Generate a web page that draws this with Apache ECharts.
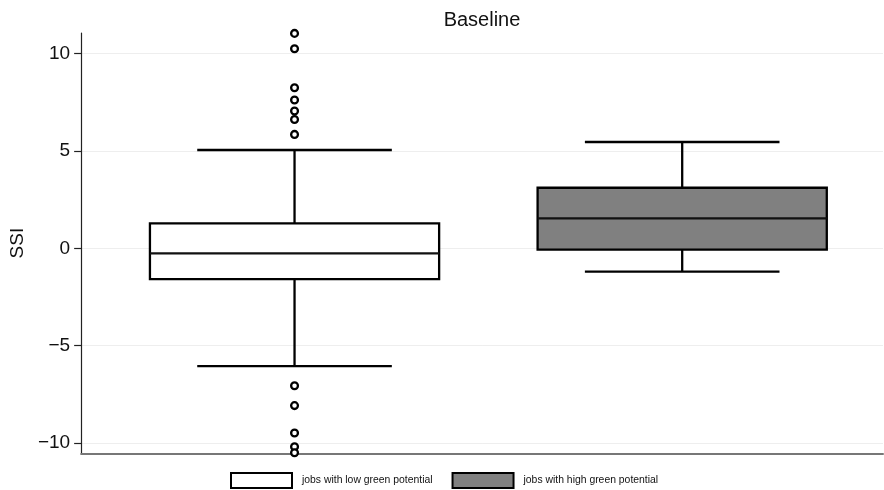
<!DOCTYPE html>
<html>
<head>
<meta charset="utf-8">
<script src="https://cdn.jsdelivr.net/npm/echarts@6/dist/echarts.min.js"></script>
<style>
html,body{margin:0;padding:0;background:#fff;}
#chart{width:884px;height:490px;}
</style>
</head>
<body>
<div id="chart"></div>
<script>
// ---- data ----
const categories = ['jobs with low green potential', 'jobs with high green potential'];
const lowerWhisker = [-6.05, -1.20];
const q1Values = [-1.58, -0.07];
const medianValues = [-0.26, 1.54];
const q3Values = [1.28, 3.11];
const upperWhisker = [5.05, 5.46];
const outliersLowGreen = [11.04, 10.25, 8.25, 7.62, 7.05, 6.62, 5.85, -7.06, -8.08, -9.49, -10.19, -10.50];
const yTickValues = [-10, -5, 0, 5, 10];
const titleText = 'Baseline';
const yAxisName = 'SSI';

// ---- styles ----
const FONT = 'Liberation Sans, Arial, Helvetica, sans-serif';
const FILLS = ['#ffffff', '#808080'];
const BOX_HALF = 0.373;
const CAP_HALF = 0.251;
const LW = 2.3;

function renderBox(params, api) {
  const x = api.value(0);
  const pMin = api.coord([x, api.value(1)]);
  const pQ1 = api.coord([x, api.value(2)]);
  const pMed = api.coord([x, api.value(3)]);
  const pQ3 = api.coord([x, api.value(4)]);
  const pMax = api.coord([x, api.value(5)]);
  const hw = api.size([BOX_HALF, 0])[0];
  const cw = api.size([CAP_HALF, 0])[0];
  const cx = pMed[0];
  const ls = { stroke: '#000', lineWidth: LW };
  return {
    type: 'group',
    children: [
      { type: 'line', shape: { x1: cx, y1: pQ3[1], x2: cx, y2: pMax[1] }, style: ls },
      { type: 'line', shape: { x1: cx - cw, y1: pMax[1], x2: cx + cw, y2: pMax[1] }, style: ls },
      { type: 'line', shape: { x1: cx, y1: pQ1[1], x2: cx, y2: pMin[1] }, style: ls },
      { type: 'line', shape: { x1: cx - cw, y1: pMin[1], x2: cx + cw, y2: pMin[1] }, style: ls },
      { type: 'rect', shape: { x: cx - hw, y: pQ3[1], width: 2 * hw, height: pQ1[1] - pQ3[1] },
        style: { fill: FILLS[params.seriesIndex], stroke: '#000', lineWidth: LW } },
      { type: 'line', shape: { x1: cx - hw, y1: pMed[1], x2: cx + hw, y2: pMed[1] }, style: { stroke: '#111', lineWidth: LW } }
    ]
  };
}

const boxSeries = categories.map((name, i) => ({
  name: name,
  type: 'custom',
  renderItem: renderBox,
  encode: { x: 0, y: [1, 2, 3, 4, 5] },
  itemStyle: { color: FILLS[i], borderColor: '#000', borderWidth: 2 },
  clip: false,
  z: 2,
  data: [[i + 1, lowerWhisker[i], q1Values[i], medianValues[i], q3Values[i], upperWhisker[i]]]
}));

const chart = echarts.init(document.getElementById('chart'), null, { renderer: 'canvas' });
chart.setOption({
  animation: false,
  backgroundColor: '#fff',
  textStyle: { fontFamily: FONT },
  title: {
    text: titleText,
    left: 477,
    textAlign: 'center',
    top: 5,
    textStyle: { fontFamily: FONT, fontSize: 20, fontWeight: 'normal', color: '#111' }
  },
  legend: {
    left: 225,
    top: 467,
    itemWidth: 61,
    itemHeight: 15,
    itemGap: 19,
    icon: 'rect',
    selectedMode: false,
    textStyle: { fontFamily: FONT, fontSize: 10.4, color: '#111', padding: [0, 0, 0, 5] },
    data: categories.map((name, i) => ({
      name: name,
      icon: 'rect',
      itemStyle: { color: FILLS[i], borderColor: '#000', borderWidth: 2 }
    }))
  },
  grid: { left: 79, right: 1, top: 33, bottom: 36.7, containLabel: false },
  xAxis: {
    type: 'value',
    min: 0.4495,
    max: 2.518,
    axisLine: { show: true, onZero: false, lineStyle: { color: '#777', width: 2 } },
    axisTick: { show: false },
    axisLabel: { show: false },
    splitLine: { show: false }
  },
  yAxis: {
    type: 'value',
    min: -10.53,
    max: 11.06,
    name: yAxisName,
    nameLocation: 'middle',
    nameGap: 48,
    nameTextStyle: { fontFamily: FONT, fontSize: 19, color: '#111' },
    axisLine: { show: true, onZero: false, lineStyle: { color: '#222', width: 1.2 } },
    axisTick: { show: true, length: 7, customValues: yTickValues, lineStyle: { color: '#222', width: 1.2 } },
    axisLabel: {
      show: true,
      margin: 11,
      customValues: yTickValues,
      fontFamily: FONT,
      fontSize: 19,
      color: '#111',
      formatter: v => String(v).replace('-', '\u2212')
    },
    splitLine: { show: true, lineStyle: { color: '#eeeeee', width: 1 } }
  },
  series: boxSeries.concat([{
    name: 'outliers',
    type: 'scatter',
    symbol: 'circle',
    symbolSize: 6.8,
    clip: false,
    z: 3,
    itemStyle: { color: '#fff', borderColor: '#000', borderWidth: 2.3, opacity: 1 },
    data: outliersLowGreen.map(v => [1, v])
  }])
});
</script>
</body>
</html>
